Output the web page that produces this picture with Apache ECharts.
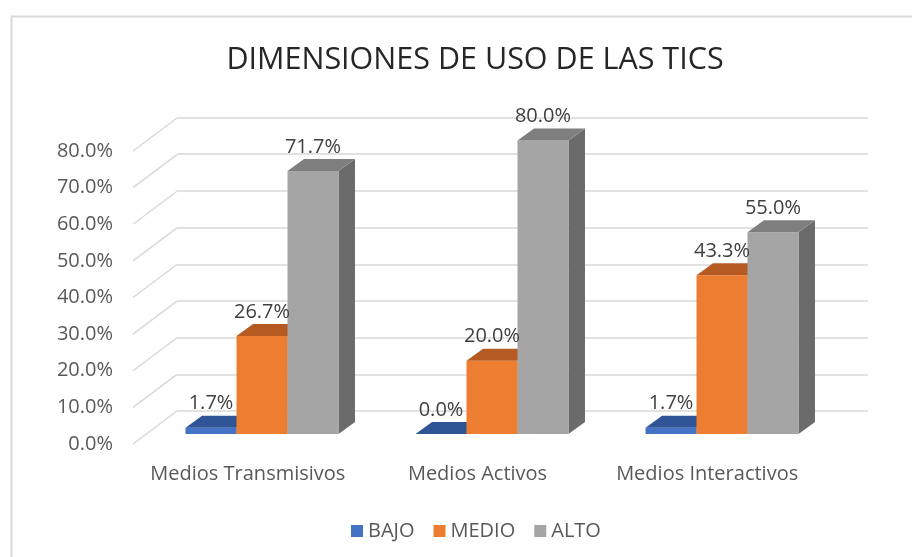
<!DOCTYPE html>
<html>
<head>
<meta charset="utf-8">
<script src="https://cdn.jsdelivr.net/npm/echarts@6/dist/echarts.min.js"></script>
<style>
  html, body { margin: 0; padding: 0; background: #fff; }
  #chart { width: 912px; height: 557px; }
</style>
</head>
<body>
<div id="chart"></div>
<script>
// data
var categories = ["Medios Transmisivos", "Medios Activos", "Medios Interactivos"];
var levels = ["BAJO", "MEDIO", "ALTO"];
var bajo = [1.7, 0.0, 1.7];
var medio = [26.7, 20.0, 43.3];
var alto = [71.7, 80.0, 55.0];
var yTicks = [0, 10, 20, 30, 40, 50, 60, 70, 80];

var FONT = "Open Sans";
// front, back and bar planes of the fake 3d box
var front = { left: 133, right: 90, top: 151, bottom: 113 };
var back = { left: 177, right: 44, top: 117.5, bottom: 146 };
var plane = { left: 147, right: 75, top: 140.5, bottom: 123 };
var DX = back.left - front.left;
var DY = (557 - front.bottom) - (557 - back.bottom);
var BDX = 16.5, BDY = 12; // bar depth
var groupRatio = 0.665;

// front / top / side colours
var faces = [
  ["#4472C4", "#2F5597", "#2A4C89"],
  ["#ED7D31", "#B55B22", "#A4521E"],
  ["#A5A5A5", "#7F7F7F", "#6B6B6B"]
];
var seriesValues = [bajo, medio, alto];

function barGeom(params, api, k) {
  var i = api.value(0);
  var top = api.coord([i, api.value(1)]);
  var base = api.coord([i, 0]);
  var bw = api.size([1, 0])[0] * groupRatio / 3;
  var x0 = top[0] - 1.5 * bw + k * bw;
  return { x0: x0, bw: bw, top: top[1], bot: base[1] };
}

function makeBarSeries(k) {
  return {
    name: levels[k],
    type: "custom",
    xAxisIndex: 2,
    yAxisIndex: 2,
    z: 3 + k,
    itemStyle: { color: faces[k][0] },
    data: seriesValues[k].map(function (v, i) { return [i, v]; }),
    renderItem: function (params, api) {
      var g = barGeom(params, api, k);
      var x0 = g.x0, x1 = g.x0 + g.bw, t = g.top, b = g.bot;
      return {
        type: "group",
        children: [
          { type: "polygon", shape: { points: [[x1, t], [x1 + BDX, t - BDY], [x1 + BDX, b - BDY], [x1, b]] },
            style: { fill: faces[k][2] } },
          { type: "rect", shape: { x: x0, y: t, width: g.bw, height: b - t },
            style: { fill: faces[k][0] } },
          { type: "polygon", shape: { points: [[x0, t], [x1, t], [x1 + BDX, t - BDY], [x0 + BDX, t - BDY]] },
            style: { fill: faces[k][1] } }
        ]
      };
    }
  };
}

var labelData = [];
seriesValues.forEach(function (vals, k) {
  vals.forEach(function (v, i) { labelData.push([i, v, k]); });
});

var myChart = echarts.init(document.getElementById("chart"));
var option = {
  animation: false,
  backgroundColor: "#fff",
  title: {
    text: "DIMENSIONES DE USO DE LAS TICS",
    left: 470,
    top: 40,
    textAlign: "center",
    textStyle: { fontFamily: FONT, fontSize: 30.5, fontWeight: "normal", color: "#262626" }
  },
  legend: {
    data: levels,
    left: 346,
    top: 516,
    icon: "rect",
    itemWidth: 12,
    itemHeight: 12,
    itemGap: 19,
    textStyle: { fontFamily: FONT, fontSize: 20, color: "#595959" }
  },
  graphic: [
    { type: "rect", z: -10, shape: { x: 11.5, y: 16.5, width: 1000, height: 1000 },
      style: { fill: "none", stroke: "#d9d9d9", lineWidth: 2 } }
  ],
  grid: [
    { left: front.left, right: front.right, top: front.top, bottom: front.bottom },
    { left: back.left, right: back.right, top: back.top, bottom: back.bottom },
    { left: plane.left, right: plane.right, top: plane.top, bottom: plane.bottom }
  ],
  xAxis: [
    { type: "category", gridIndex: 0, data: categories,
      axisLine: { show: false }, axisTick: { show: false },
      axisLabel: { interval: 0, margin: 20, fontFamily: FONT, fontSize: 20, color: "#595959" } },
    { type: "category", gridIndex: 1, data: categories, show: false },
    { type: "category", gridIndex: 2, data: categories, show: false }
  ],
  yAxis: [
    { type: "value", gridIndex: 0, min: 0, max: 80, interval: 10,
      axisLine: { show: false }, axisTick: { show: false }, splitLine: { show: false },
      axisLabel: { margin: 20, fontFamily: FONT, fontSize: 20, color: "#595959",
        formatter: function (v) { return v.toFixed(1) + "%"; } } },
    { type: "value", gridIndex: 1, min: 0, max: 80, interval: 10,
      axisLine: { show: false }, axisTick: { show: false }, axisLabel: { show: false },
      splitLine: { show: true, lineStyle: { color: "#d9d9d9", width: 1.5 } } },
    { type: "value", gridIndex: 2, min: 0, max: 80, interval: 10, show: false,
      splitLine: { show: false } }
  ],
  series: [
    {
      type: "custom",
      name: "walls",
      xAxisIndex: 0,
      yAxisIndex: 0,
      z: 1,
      silent: true,
      data: yTicks.map(function (v) { return [0, v]; }),
      renderItem: function (params, api) {
        var y = api.coord([0, api.value(1)])[1];
        var x = params.coordSys.x;
        return {
          type: "line",
          shape: { x1: x, y1: y, x2: x + DX, y2: y - DY },
          style: { stroke: "#d9d9d9", lineWidth: 1.5 }
        };
      }
    },
    makeBarSeries(0),
    makeBarSeries(1),
    makeBarSeries(2),
    {
      type: "custom",
      name: "labels",
      xAxisIndex: 2,
      yAxisIndex: 2,
      z: 10,
      silent: true,
      data: labelData,
      renderItem: function (params, api) {
        var k = api.value(2);
        var g = barGeom(params, api, k);
        return {
          type: "text",
          style: {
            text: api.value(1).toFixed(1) + "%",
            x: g.x0 + g.bw / 2,
            y: g.top - BDY - 12,
            textAlign: "center",
            textVerticalAlign: "middle",
            fontFamily: FONT,
            fontSize: 20,
            fill: "#404040"
          }
        };
      }
    }
  ]
};
myChart.setOption(option);
</script>
</body>
</html>
